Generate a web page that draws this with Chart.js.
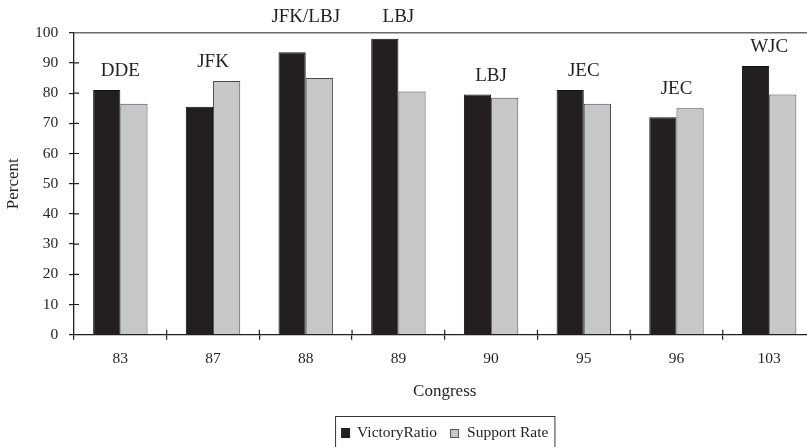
<!DOCTYPE html>
<html>
<head>
<meta charset="utf-8">
<script src="https://cdn.jsdelivr.net/npm/chart.js@4"></script>
<style>
  html, body { margin: 0; padding: 0; background: #fff; overflow: hidden; }
  #wrap { width: 830px; height: 447px; }
</style>
</head>
<body>
<div id="wrap"><canvas id="myChart" width="830" height="447"></canvas></div>
<script>
const congress = ['83', '87', '88', '89', '90', '95', '96', '103'];
const presidents = ['DDE', 'JFK', 'JFK/LBJ', 'LBJ', 'LBJ', 'JEC', 'JEC', 'WJC'];
const victoryRatio = [81, 75.5, 93.5, 98, 79.5, 81, 72, 89];
const supportRate = [76.5, 84, 85, 80.5, 78.5, 76.5, 75, 79.5];
const yTicks = [0, 10, 20, 30, 40, 50, 60, 70, 80, 90, 100];

const serif = 'Liberation Serif';
const ink = '#231f20';

// labels with the president above each pair of bars
const presidentLabels = {
    id: 'presidentLabels',
    afterDatasetsDraw(chart) {
        const c = chart.ctx;
        const area = chart.chartArea;
        const m0 = chart.getDatasetMeta(0).data;
        const m1 = chart.getDatasetMeta(1).data;
        c.save();
        c.font = '19px "' + serif + '"';
        c.fillStyle = ink;
        c.textAlign = 'center';
        c.textBaseline = 'middle';
        presidents.forEach(function (p, i) {
            const x = (m0[i].x + m1[i].x) / 2;
            let y = Math.min(m0[i].y, m1[i].y) - 19;
            if (y < area.top + 10) y = area.top - 16;
            c.fillText(p, x, y);
        });
        c.restore();
    }
};

// top frame line, inner tick halves, boxed legend
const frameAndLegend = {
    id: 'frameAndLegend',
    afterDraw(chart) {
        const c = chart.ctx;
        const a = chart.chartArea;
        const ys = chart.scales.y;
        c.save();
        c.strokeStyle = '#6b6b6b';
        c.lineWidth = 1.5;
        c.beginPath();
        c.moveTo(a.left, a.top);
        c.lineTo(chart.width, a.top);
        c.stroke();

        c.strokeStyle = ink;
        c.lineWidth = 1.2;
        c.beginPath();
        yTicks.forEach(function (v) {
            if (v === 0 || v === 100) return;
            const y = ys.getPixelForValue(v);
            c.moveTo(a.left, y);
            c.lineTo(a.left + 5, y);
        });
        const w = (a.right - a.left) / congress.length;
        for (let i = 1; i < congress.length; i++) {
            const x = a.left + i * w;
            c.moveTo(x, a.bottom);
            c.lineTo(x, a.bottom - 5);
        }
        c.stroke();

        // legend
        c.font = '15.5px "' + serif + '"';
        c.textBaseline = 'middle';
        c.textAlign = 'left';
        const t1 = 'VictoryRatio', t2 = 'Support Rate';
        const w1 = c.measureText(t1).width, w2 = c.measureText(t2).width;
        const boxW = 6 + 9 + 7 + w1 + 13 + 9 + 8 + w2 + 6;
        const cx = (a.left + a.right) / 2;
        const bx = cx - boxW / 2;
        const by = 416;
        const ty = 433;
        c.strokeStyle = '#333';
        c.lineWidth = 1;
        c.strokeRect(bx + 0.5, by + 0.5, boxW, 40);
        let x = bx + 6;
        c.fillStyle = ink;
        c.fillRect(x, ty - 5, 9, 10);
        x += 9 + 7;
        c.fillText(t1, x, ty);
        x += w1 + 13;
        c.fillStyle = '#c6c7c9';
        c.fillRect(x, ty - 4, 8, 9);
        c.strokeStyle = '#555';
        c.strokeRect(x + 0.5, ty - 3.5, 8, 8);
        x += 9 + 8;
        c.fillStyle = ink;
        c.fillText(t2, x, ty);
        c.restore();
    }
};

const ctx = document.getElementById('myChart');

new Chart(ctx, {
    type: 'bar',
    data: {
        labels: congress,
        datasets: [{
            label: 'VictoryRatio',
            data: victoryRatio,
            backgroundColor: ink,
            borderColor: '#111',
            borderWidth: 1,
            borderSkipped: 'bottom'
        }, {
            label: 'Support Rate',
            data: supportRate,
            backgroundColor: '#c6c7c9',
            borderColor: '#4a4a4a',
            borderWidth: 1,
            borderSkipped: 'bottom'
        }]
    },
    options: {
        responsive: false,
        animation: false,
        layout: { padding: { left: 0, right: 14.5, top: 32.7, bottom: 0 } },
        datasets: { bar: { barPercentage: 1, categoryPercentage: 0.587 } },
        plugins: {
            legend: { display: false },
            tooltip: { enabled: false }
        },
        scales: {
            x: {
                grid: { drawOnChartArea: false, tickLength: 5, color: ink, lineWidth: 1.2 },
                border: { color: ink, width: 1.3 },
                ticks: { color: ink, padding: 10, font: { family: serif, size: 15.5 } },
                title: {
                    display: true,
                    text: 'Congress',
                    color: ink,
                    font: { family: serif, size: 17 },
                    padding: { top: 0, bottom: 44.8 }
                },
                afterFit(scale) { scale.height = 112.3; }
            },
            y: {
                min: 0,
                max: 100,
                afterBuildTicks(scale) { scale.ticks = yTicks.map(v => ({ value: v })); },
                grid: { drawOnChartArea: false, tickLength: 5, color: ink, lineWidth: 1.2 },
                border: { color: ink, width: 1.3 },
                ticks: { color: ink, padding: 10.7, font: { family: serif, size: 15.5 } },
                title: {
                    display: true,
                    text: 'Percent',
                    color: ink,
                    font: { family: serif, size: 17 },
                    padding: { top: 3.4, bottom: 0 }
                },
                afterFit(scale) { scale.width = 74; }
            }
        }
    },
    plugins: [presidentLabels, frameAndLegend]
});
</script>
</body>
</html>
